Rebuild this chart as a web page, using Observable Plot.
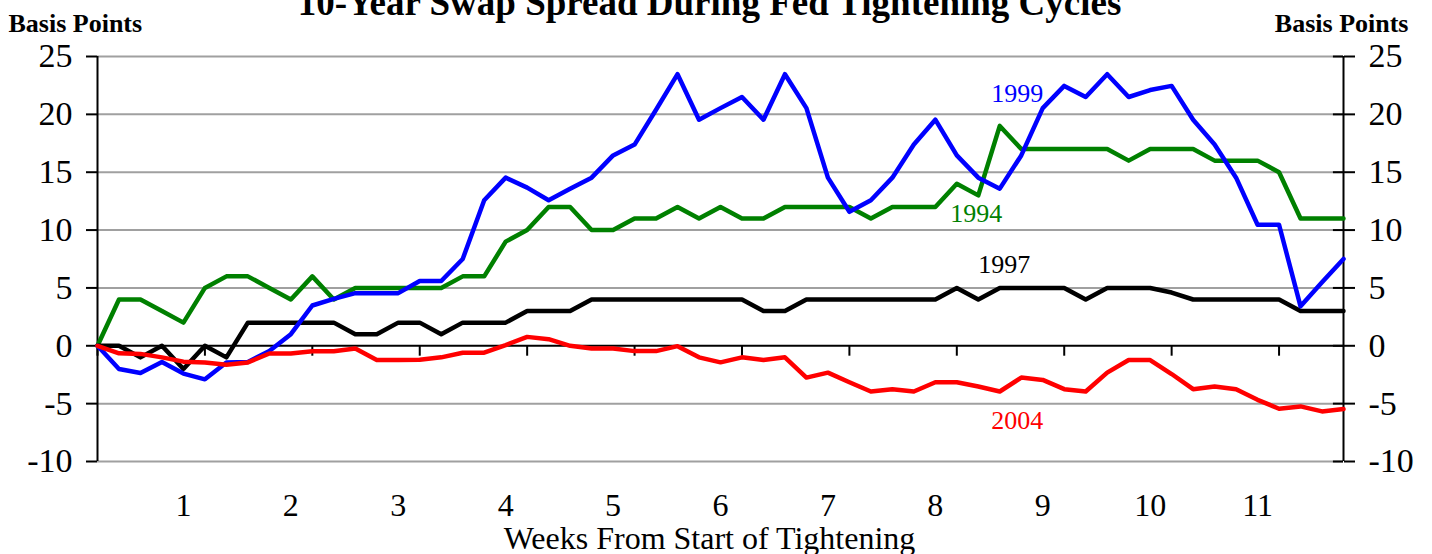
<!DOCTYPE html>
<html>
<head>
<meta charset="utf-8">
<script src="https://cdn.jsdelivr.net/npm/d3@7"></script>
<script src="https://cdn.jsdelivr.net/npm/@observablehq/plot@0.6"></script>
<style>
  html, body { margin: 0; padding: 0; background: #fff; overflow: hidden; }
</style>
</head>
<body>
<div id="chart"></div>
<script>
// ---- Text ----
const chartTitle = "10-Year Swap Spread During Fed Tightening Cycles";
const yAxisTitle = "Basis Points";
const xAxisTitle = "Weeks From Start of Tightening";

// ---- Series (basis points, one value per trading day from start of tightening) ----
const s1994 = [0,4,4,3,2,5,6,6,5,4,6,4,5,5,5,5,5,6,6,9,10,12,12,10,10,11,11,12,11,12,11,11,12,12,12,12,11,12,12,12,14,13,19,17,17,17,17,17,16,17,17,17,16,16,16,15,11,11,11];
const s1997 = [0,0,-1,0,-2,0,-1,2,2,2,2,2,1,1,2,2,1,2,2,2,3,3,3,4,4,4,4,4,4,4,4,3,3,4,4,4,4,4,4,4,5,4,5,5,5,5,4,5,5,5,4.6,4,4,4,4,4,3,3,3];
const s1999 = [0,-2,-2.35,-1.4,-2.4,-2.9,-1.45,-1.4,-0.45,1.0,3.48,4.06,4.55,4.55,4.55,5.6,5.6,7.5,12.58,14.53,13.67,12.58,13.58,14.53,16.45,17.39,20.4,23.47,19.54,20.54,21.5,19.54,23.47,20.54,14.53,11.58,12.58,14.53,17.4,19.54,16.45,14.53,13.58,16.45,20.54,22.46,21.5,23.47,21.5,22.1,22.46,19.54,17.4,14.53,10.46,10.46,3.41,5.5,7.5];
const s2004 = [0,-0.65,-0.7,-1.0,-1.37,-1.44,-1.63,-1.44,-0.67,-0.67,-0.47,-0.47,-0.23,-1.23,-1.23,-1.2,-1.0,-0.6,-0.6,0.06,0.77,0.57,0,-0.23,-0.23,-0.46,-0.46,-0.03,-1.0,-1.43,-1.0,-1.23,-1.0,-2.75,-2.32,-3.15,-3.95,-3.75,-3.95,-3.15,-3.15,-3.52,-3.95,-2.75,-2.95,-3.75,-3.95,-2.32,-1.23,-1.23,-2.44,-3.75,-3.52,-3.75,-4.67,-5.44,-5.24,-5.67,-5.47];

const seriesNames  = ["1994", "1997", "1999", "2004"];
const seriesValues = [s1994, s1997, s1999, s2004];
const seriesColors = ["#008000", "#000000", "#0000ff", "#ff0000"];

// ---- Series label annotations (data coordinates: day index, basis points) ----
const labelDays   = [39.7, 41.0, 41.6, 41.6];
const labelValues = [10.66, 6.25, 21.03, -7.23];

// ---- Axes ----
const yTicks = [-10, -5, 0, 5, 10, 15, 20, 25];
const weekLabels = ["1","2","3","4","5","6","7","8","9","10","11"];
const weekLabelDays = [4, 9, 14, 19, 24, 29, 34, 39, 44, 49, 54];
const dayTicks = [0, 5, 10, 15, 20, 25, 30, 35, 40, 45, 50, 55];

const lastDay = s1994.length - 1;
const serif = "'Liberation Serif', 'Times New Roman', Times, serif";

const weekRows = weekLabels.map((label, i) => ({label, day: weekLabelDays[i]}));
const labelRows = seriesNames.map((name, i) => ({name, day: labelDays[i], value: labelValues[i], color: seriesColors[i]}));

const marks = [
  // gridlines
  Plot.ruleY(yTicks.filter(v => v !== 0), {stroke: "#a0a0a0", strokeWidth: 2}),
  // zero line + its tick marks
  Plot.ruleY([0], {stroke: "#000", strokeWidth: 2}),
  Plot.ruleX(dayTicks, {x: d => d, y1: 0, y2: -0.9, stroke: "#000", strokeWidth: 2}),
  // vertical axis lines
  Plot.ruleX([0, lastDay], {stroke: "#000", strokeWidth: 2}),
  // right axis inward tick parts
  Plot.ruleY(yTicks, {x1: lastDay, x2: lastDay - 0.47, stroke: "#000", strokeWidth: 2}),
  // y axes
  Plot.axisY(yTicks, {anchor: "left", label: null, tickSize: 11, tickPadding: 14, fontSize: 34, strokeWidth: 2, tickFormat: d => String(d)}),
  Plot.axisY(yTicks, {anchor: "right", label: null, tickSize: 11, tickPadding: 14, fontSize: 34, strokeWidth: 2, tickFormat: d => String(d)}),
  // x labels
  Plot.text(weekRows, {x: "day", text: "label", frameAnchor: "bottom", dy: 54, lineAnchor: "bottom", fontSize: 32}),
  Plot.text([xAxisTitle], {frameAnchor: "bottom", dx: -11, dy: 87, lineAnchor: "bottom", fontSize: 32}),
  // titles
  Plot.text([chartTitle], {frameAnchor: "top", dx: -11, dy: -42, lineAnchor: "bottom", fontSize: 37, fontWeight: "bold"}),
  Plot.text([yAxisTitle], {frameAnchor: "top-left", dx: -89, dy: -25, textAnchor: "start", lineAnchor: "bottom", fontSize: 26, fontWeight: "bold"}),
  Plot.text([yAxisTitle], {frameAnchor: "top-right", dx: 65, dy: -25, textAnchor: "end", lineAnchor: "bottom", fontSize: 26, fontWeight: "bold"}),
  // series lines
  ...seriesValues.map((vals, i) => Plot.lineY(vals, {x: (d, j) => j, y: d => d, stroke: seriesColors[i], strokeWidth: 4.5})),
  // series labels
  Plot.text(labelRows, {x: "day", y: "value", text: "name", fill: "color", textAnchor: "start", lineAnchor: "bottom", fontSize: 26})
];

const chart = Plot.plot({
  width: 1432,
  height: 554,
  marginTop: 56,
  marginBottom: 93,
  marginLeft: 97,
  marginRight: 89,
  style: {fontFamily: serif, background: "#fff", color: "#000"},
  x: {domain: [0, lastDay], axis: null},
  y: {domain: [-10, 25], axis: null},
  marks
});
document.getElementById("chart").appendChild(chart);
</script>
</body>
</html>
